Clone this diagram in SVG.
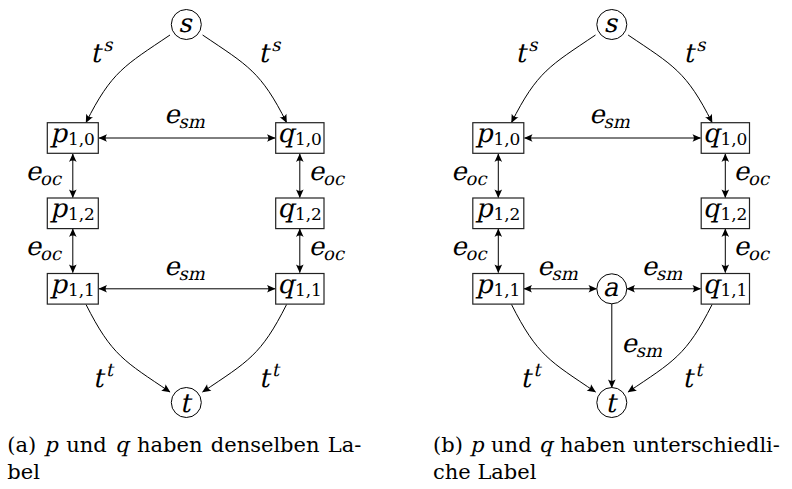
<svg xmlns="http://www.w3.org/2000/svg" width="792" height="489" viewBox="0 0 792 489">
<style>
.bg{fill:#fff}
.box{fill:#fff;stroke:#222;stroke-width:1.2}
.circ{fill:#fff;stroke:#000;stroke-width:1}
.m{font-family:'DejaVu Serif',serif;font-style:normal;font-size:26px;fill:#000}
.sub{font-size:18px}
.d{font-family:'DejaVu Serif',serif;font-size:17px;fill:#000}
.e{fill:none;stroke:#000;stroke-width:1}
.cap{font-family:'DejaVu Serif',serif;font-size:21px;fill:#000}
</style>
<defs>
<marker id="ah" viewBox="-10 -5 11 10" refX="0" refY="0" markerWidth="11" markerHeight="10" markerUnits="userSpaceOnUse" orient="auto-start-reverse">
<path d="M0.5,0 L-8,-3.8 Q-5.2,0 -8,3.8 Z" fill="#000"/>
</marker>
</defs>
<rect class="bg" x="0" y="0" width="792" height="489"/>

<g id="connectors">
<path class="e" d="M170,35 C124.4,65.8 111.8,71.4 86,122.5" marker-end="url(#ah)"/>
<path class="e" d="M202.6,35 C248.2,65.8 260.8,71.4 286.6,122.5" marker-end="url(#ah)"/>
<path class="e" d="M86,304.5 C111.8,355.6 124.4,361.2 170,392" marker-end="url(#ah)"/>
<path class="e" d="M286.6,304.5 C260.8,355.6 248.2,361.2 202.6,392" marker-end="url(#ah)"/>
<path class="e" d="M99,138 H275" marker-start="url(#ah)" marker-end="url(#ah)"/>
<path class="e" d="M99,288.8 H275" marker-start="url(#ah)" marker-end="url(#ah)"/>
<path class="e" d="M72.8,154 V197.6" marker-start="url(#ah)" marker-end="url(#ah)"/>
<path class="e" d="M72.8,229 V272.6" marker-start="url(#ah)" marker-end="url(#ah)"/>
<path class="e" d="M299.8,154 V197.6" marker-start="url(#ah)" marker-end="url(#ah)"/>
<path class="e" d="M299.8,229 V272.6" marker-start="url(#ah)" marker-end="url(#ah)"/>
<path class="e" d="M595.5,35 C549.9,65.8 537.3,71.4 511.5,122.5" marker-end="url(#ah)"/>
<path class="e" d="M628.1,35 C673.7,65.8 686.3,71.4 712.1,122.5" marker-end="url(#ah)"/>
<path class="e" d="M511.5,304.5 C537.3,355.6 549.9,361.2 595.5,392" marker-end="url(#ah)"/>
<path class="e" d="M712.1,304.5 C686.3,355.6 673.7,361.2 628.1,392" marker-end="url(#ah)"/>
<path class="e" d="M524.5,138 H700.5" marker-start="url(#ah)" marker-end="url(#ah)"/>
<path class="e" d="M524,288.8 H596.5" marker-start="url(#ah)" marker-end="url(#ah)"/>
<path class="e" d="M627,288.8 H700.5" marker-start="url(#ah)" marker-end="url(#ah)"/>
<path class="e" d="M611.8,304 V387.5" marker-end="url(#ah)"/>
<path class="e" d="M498.3,154 V197.6" marker-start="url(#ah)" marker-end="url(#ah)"/>
<path class="e" d="M498.3,229 V272.6" marker-start="url(#ah)" marker-end="url(#ah)"/>
<path class="e" d="M725.3,154 V197.6" marker-start="url(#ah)" marker-end="url(#ah)"/>
<path class="e" d="M725.3,229 V272.6" marker-start="url(#ah)" marker-end="url(#ah)"/>

<text class="m" transform="translate(100,62) skewX(-13)" text-anchor="middle">t<tspan class="sub" dy="-11">s</tspan></text>
<text class="m" transform="translate(268,62) skewX(-13)" text-anchor="middle">t<tspan class="sub" dy="-11">s</tspan></text>
<text class="m" transform="translate(185,122.5) skewX(-13)" text-anchor="middle">e<tspan class="sub" dy="5">sm</tspan></text>
<text class="m" transform="translate(185,274.5) skewX(-13)" text-anchor="middle">e<tspan class="sub" dy="5">sm</tspan></text>
<text class="m" transform="translate(44,180) skewX(-13)" text-anchor="middle">e<tspan class="sub" dy="5">oc</tspan></text>
<text class="m" transform="translate(44,255) skewX(-13)" text-anchor="middle">e<tspan class="sub" dy="5">oc</tspan></text>
<text class="m" transform="translate(327,180) skewX(-13)" text-anchor="middle">e<tspan class="sub" dy="5">oc</tspan></text>
<text class="m" transform="translate(327,255) skewX(-13)" text-anchor="middle">e<tspan class="sub" dy="5">oc</tspan></text>
<text class="m" transform="translate(101.5,386.5) skewX(-13)" text-anchor="middle">t<tspan class="sub" dy="-11">t</tspan></text>
<text class="m" transform="translate(267.5,386.5) skewX(-13)" text-anchor="middle">t<tspan class="sub" dy="-11">t</tspan></text>
<text class="m" transform="translate(525,62) skewX(-13)" text-anchor="middle">t<tspan class="sub" dy="-11">s</tspan></text>
<text class="m" transform="translate(693,62) skewX(-13)" text-anchor="middle">t<tspan class="sub" dy="-11">s</tspan></text>
<text class="m" transform="translate(610,122.5) skewX(-13)" text-anchor="middle">e<tspan class="sub" dy="5">sm</tspan></text>
<text class="m" transform="translate(469.5,180) skewX(-13)" text-anchor="middle">e<tspan class="sub" dy="5">oc</tspan></text>
<text class="m" transform="translate(469.5,255) skewX(-13)" text-anchor="middle">e<tspan class="sub" dy="5">oc</tspan></text>
<text class="m" transform="translate(752,180) skewX(-13)" text-anchor="middle">e<tspan class="sub" dy="5">oc</tspan></text>
<text class="m" transform="translate(752,255) skewX(-13)" text-anchor="middle">e<tspan class="sub" dy="5">oc</tspan></text>
<text class="m" transform="translate(558,274.5) skewX(-13)" text-anchor="middle">e<tspan class="sub" dy="5">sm</tspan></text>
<text class="m" transform="translate(662.5,274.5) skewX(-13)" text-anchor="middle">e<tspan class="sub" dy="5">sm</tspan></text>
<text class="m" transform="translate(642.3,352) skewX(-13)" text-anchor="middle">e<tspan class="sub" dy="5">sm</tspan></text>
<text class="m" transform="translate(529,386.5) skewX(-13)" text-anchor="middle">t<tspan class="sub" dy="-11">t</tspan></text>
<text class="m" transform="translate(691,386.5) skewX(-13)" text-anchor="middle">t<tspan class="sub" dy="-11">t</tspan></text>
</g>

<g id="a_s"><circle class="circ" cx="186.3" cy="24.5" r="15"/><text class="m" transform="translate(185,31.5) skewX(-13)" text-anchor="middle">s</text></g>
<g id="a_t"><circle class="circ" cx="186.3" cy="402.5" r="15"/><text class="m" transform="translate(185,412) skewX(-13)" text-anchor="middle">t</text></g>
<g id="a_p10"><rect class="box" x="47.3" y="122.7" width="51" height="30.6"/><text class="m" transform="translate(50.5,142) skewX(-13)">p</text><text class="d" x="67.9" y="145">1,0</text></g>
<g id="a_p12"><rect class="box" x="47.3" y="198" width="51" height="30.6"/><text class="m" transform="translate(50.5,217.3) skewX(-13)">p</text><text class="d" x="67.9" y="220.3">1,2</text></g>
<g id="a_p11"><rect class="box" x="47.3" y="273.5" width="51" height="30.6"/><text class="m" transform="translate(50.5,292.8) skewX(-13)">p</text><text class="d" x="67.9" y="295.8">1,1</text></g>
<g id="a_q10"><rect class="box" x="275.7" y="122.7" width="48.3" height="30.6"/><text class="m" transform="translate(277.5,142) skewX(-13)">q</text><text class="d" x="294.9" y="145">1,0</text></g>
<g id="a_q12"><rect class="box" x="275.7" y="198" width="48.3" height="30.6"/><text class="m" transform="translate(277.5,217.3) skewX(-13)">q</text><text class="d" x="294.9" y="220.3">1,2</text></g>
<g id="a_q11"><rect class="box" x="275.7" y="273.5" width="48.3" height="30.6"/><text class="m" transform="translate(277.5,292.8) skewX(-13)">q</text><text class="d" x="294.9" y="295.8">1,1</text></g>

<g id="b_s"><circle class="circ" cx="611.8" cy="24.5" r="15"/><text class="m" transform="translate(610.5,31.5) skewX(-13)" text-anchor="middle">s</text></g>
<g id="b_t"><circle class="circ" cx="611.8" cy="402.5" r="15"/><text class="m" transform="translate(610.5,412) skewX(-13)" text-anchor="middle">t</text></g>
<g id="b_a"><circle class="circ" cx="611.8" cy="288.8" r="15"/><text class="m" transform="translate(610.5,296) skewX(-13)" text-anchor="middle">a</text></g>
<g id="b_p10"><rect class="box" x="472.8" y="122.7" width="51" height="30.6"/><text class="m" transform="translate(476,142) skewX(-13)">p</text><text class="d" x="493.4" y="145">1,0</text></g>
<g id="b_p12"><rect class="box" x="472.8" y="198" width="51" height="30.6"/><text class="m" transform="translate(476,217.3) skewX(-13)">p</text><text class="d" x="493.4" y="220.3">1,2</text></g>
<g id="b_p11"><rect class="box" x="472.8" y="273.5" width="51" height="30.6"/><text class="m" transform="translate(476,292.8) skewX(-13)">p</text><text class="d" x="493.4" y="295.8">1,1</text></g>
<g id="b_q10"><rect class="box" x="701.2" y="122.7" width="48.3" height="30.6"/><text class="m" transform="translate(703,142) skewX(-13)">q</text><text class="d" x="720.4" y="145">1,0</text></g>
<g id="b_q12"><rect class="box" x="701.2" y="198" width="48.3" height="30.6"/><text class="m" transform="translate(703,217.3) skewX(-13)">q</text><text class="d" x="720.4" y="220.3">1,2</text></g>
<g id="b_q11"><rect class="box" x="701.2" y="273.5" width="48.3" height="30.6"/><text class="m" transform="translate(703,292.8) skewX(-13)">q</text><text class="d" x="720.4" y="295.8">1,1</text></g>

<g id="captions">
<text class="cap" y="451.5"><tspan x="7.3">(a)</tspan><tspan x="66.3">und</tspan><tspan x="137">haben</tspan><tspan x="210.8">denselben</tspan><tspan x="327.8">La-</tspan></text>
<text class="cap" transform="translate(44.5,451.5) skewX(-13)">p</text>
<text class="cap" transform="translate(115.2,451.5) skewX(-13)">q</text>
<text class="cap" x="7.3" y="479">bel</text>
<text class="cap" y="451.5"><tspan x="433">(b)</tspan><tspan x="491.1">und</tspan><tspan x="560">haben</tspan><tspan x="632.8">unterschiedli-</tspan></text>
<text class="cap" transform="translate(470.3,451.5) skewX(-13)">p</text>
<text class="cap" transform="translate(539.1,451.5) skewX(-13)">q</text>
<text class="cap" x="433" y="479">che Label</text>
</g>
</svg>
